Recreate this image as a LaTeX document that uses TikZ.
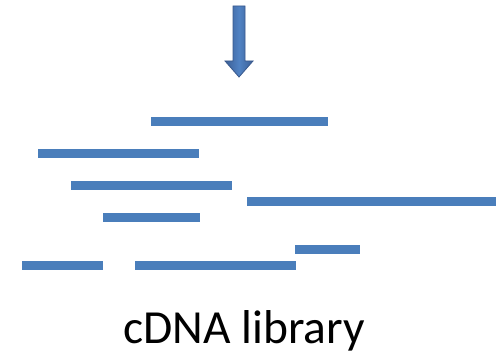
\documentclass[tikz,border=0pt]{standalone}
\usepackage{fontspec}
\setmainfont{Carlito}
\begin{document}
\begin{tikzpicture}[x=1pt,y=-1pt,
  fragment/.style={fill={rgb,255:red,74;green,126;blue,187}},
  libtext/.style={font=\fontsize{47.5}{57}\selectfont, anchor=base, inner sep=0pt}]
\useasboundingbox (0,0) rectangle (496,361);
% downward arrow
\shade[left color={rgb,255:red,60;green,95;blue,150}, right color={rgb,255:red,60;green,95;blue,150},
  middle color={rgb,255:red,80;green,130;blue,195},
  draw={rgb,255:red,56;green,88;blue,140}, line width=0.8pt]
  (233,6) -- (245,6) -- (245,61) -- (253,61) -- (239,77) -- (225,61) -- (233,61) -- cycle;
% cDNA fragments
\fill[fragment] (151,117) rectangle (328,126);
\fill[fragment] (38,149) rectangle (199,158);
\fill[fragment] (71,181) rectangle (232,190);
\fill[fragment] (247,197) rectangle (496,206);
\fill[fragment] (103,213) rectangle (200,222);
\fill[fragment] (295,245) rectangle (360,254);
\fill[fragment] (22,261) rectangle (103,270);
\fill[fragment] (135,261) rectangle (296,270);
\node[libtext] (lib) at (244,343) {cDNA library};
\end{tikzpicture}
\end{document}
